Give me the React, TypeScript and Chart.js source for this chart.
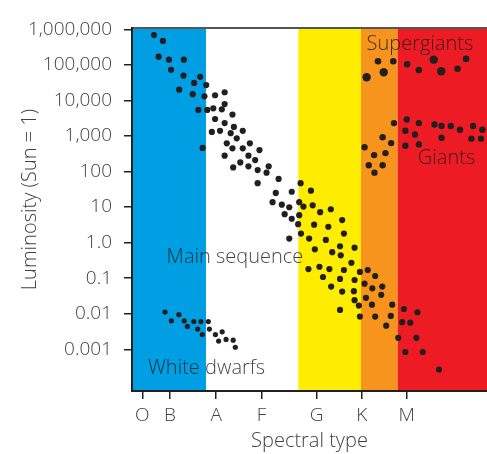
import React, { useEffect, useRef } from 'react';
import { Chart, registerables } from 'chart.js';

Chart.register(...registerables);

// Spectral axis: continuous index 0..100 across the plot
const spectralTickPos = [2.9, 10.7, 23.7, 36.5, 52.0, 64.7, 77.4];
const spectralTickLabels = ['O', 'B', 'A', 'F', 'G', 'K', 'M'];

const lumTickValues = [0.001, 0.01, 0.1, 1, 10, 100, 1000, 10000, 100000, 1000000];
const lumTickLabels = ['0.001', '0.01', '0.1', '1.0', '10', '100', '1,000', '10,000', '100,000', '1,000,000'];

const bandEdges = [0, 20.85, 46.85, 64.5, 74.85, 100];
const bandColors = ['#009fe3', '#ffffff', '#ffed00', '#f7941d', '#ed1c24'];

const mainSeqX = [
  6.2, 8.7, 7.5, 10.4, 14.6, 11.0, 14.5, 19.2, 17.5, 20.9, 13.3, 17.1, 20.4, 23.4, 26.1, 26.1,
  22.9, 25.3, 18.7, 21.2, 28.3, 23.4, 26.1, 28.7, 31.2, 22.5, 24.8, 27.8, 29.5, 19.9, 26.7, 28.3,
  31.2, 33.2, 35.9, 26.1, 32.8, 34.7, 30.5, 28.5, 32.8, 38.5, 35.4, 37.9, 41.3, 35.4, 40.5, 45.0,
  39.6, 42.2, 44.3, 47.1, 48.3, 43.0, 45.0, 47.1, 46.8, 47.5, 50.4, 47.6, 44.3, 49.9, 49.7, 50.9,
  53.0, 56.0, 51.3, 55.3, 59.2, 54.6, 59.7, 51.5, 56.4, 58.6, 58.8, 62.7, 61.8, 52.8, 55.6, 59.7,
  64.2, 66.4, 68.5, 53.8, 58.6, 62.7, 65.5, 67.7, 70.5, 56.1, 59.2, 62.5, 70.2, 65.9, 62.7, 63.9,
  67.6, 73.3, 76.6, 80.4, 58.6, 64.2, 68.5, 72.9, 71.6, 76.1, 78.4, 75.0, 80.1, 77.0, 81.9, 86.5,
];
const mainSeqL = [
  6.9e5, 4.7e5, 1.7e5, 1.4e5, 1.4e5, 7.3e4, 5.0e4, 4.6e4, 3.1e4, 2.7e4, 2.0e4, 1.5e4, 1.3e4, 1.4e4, 1.7e4, 7.9e3,
  6.0e3, 5.6e3, 5.4e3, 5.4e3, 4.0e3, 3.0e3, 2.3e3, 1.8e3, 1.4e3, 1.3e3, 1.4e3, 1.2e3, 860, 460, 620, 450,
  450, 620, 400, 280, 280, 210, 180, 130, 140, 140, 110, 93, 62, 47, 25, 27,
  13.7, 11.7, 9.9, 13.7, 10.3, 6.3, 4.7, 5.9, 3.3, 47, 29, 1.8, 1.3, 1.3, 0.18, 11.2,
  7.2, 8.7, 3.2, 2.8, 4.3, 1.19, 1.8, 0.65, 0.54, 0.79, 0.44, 0.72, 0.27, 0.21, 0.18, 0.17,
  0.15, 0.17, 0.115, 0.108, 0.095, 0.089, 0.07, 0.052, 0.058, 0.058, 0.042, 0.043, 0.034, 0.028, 0.024, 0.017,
  0.018, 0.018, 0.0136, 0.011, 0.0128, 0.0083, 0.0083, 0.0087, 0.0046, 0.0058, 0.0056, 0.0021, 0.0021, 0.00084, 0.00084, 0.00027,
];

const whiteDwarfX = [9.3, 11.1, 13.2, 14.7, 15.6, 17.4, 19.4, 21.5, 18.5, 19.8, 21.8, 23.5, 25.4, 24.4, 26.5, 28.5, 29.1];
const whiteDwarfL = [0.0112, 0.0063, 0.0094, 0.0063, 0.0044, 0.006, 0.006, 0.006, 0.0037, 0.0026, 0.0037, 0.0026, 0.0031, 0.0017, 0.0019, 0.0018, 0.00114];

const giantX = [73.8, 77.4, 80.8, 77.0, 79.7, 85.2, 87.2, 89.8, 92.4, 96.1, 98.7, 87.2, 95.6, 98.3, 70.6, 73.0, 77.0, 80.8, 65.5, 68.2, 71.4, 66.7, 70.6, 68.3];
const giantL = [2300, 2900, 2300, 1400, 1100, 2100, 1900, 1900, 1500, 1900, 1500, 890, 840, 840, 920, 630, 530, 580, 480, 290, 330, 150, 150, 93];

const superGiantX = [69.3, 73.6, 66.1, 70.9, 77.5, 80.8, 85.0, 87.1, 91.7, 94.1];
const superGiantL = [1.26e5, 1.26e5, 4.5e4, 6.2e4, 1.04e5, 7.2e4, 1.4e5, 6.6e4, 7.8e4, 1.47e5];
const superGiantBig = [false, false, true, true, false, false, true, true, false, false];

const regionLabels = ['Supergiants', 'Giants', 'Main sequence', 'White dwarfs'];
const regionLabelX = [81.1, 88.6, 29.0, 21.0];
const regionLabelL = [2.7e5, 163, 0.263, 2.0e-4];

const FONT = '"Open Sans", "Noto Sans", sans-serif';
const DOT = '#231f20';
const TEXT = '#3f3f3f';

const toPoints = (xs: number[], ls: number[]) => xs.map((x, i) => ({ x, y: ls[i] }));

const bandsPlugin = {
  id: 'bands',
  beforeDraw(chart: any) {
    const { ctx, chartArea, scales } = chart;
    const xs = scales.x;
    ctx.save();
    for (let i = 0; i < bandColors.length; i++) {
      const x0 = xs.getPixelForValue(bandEdges[i]);
      const x1 = xs.getPixelForValue(bandEdges[i + 1]);
      ctx.fillStyle = bandColors[i];
      ctx.fillRect(x0, chartArea.top, x1 - x0, chartArea.bottom - chartArea.top);
    }
    ctx.strokeStyle = '#555555';
    ctx.lineWidth = 2;
    ctx.beginPath();
    ctx.moveTo(chartArea.left - 1, chartArea.top);
    ctx.lineTo(chartArea.right, chartArea.top);
    ctx.stroke();
    ctx.restore();
  },
  afterDatasetsDraw(chart: any) {
    const { ctx, scales, chartArea } = chart;
    ctx.save();
    ctx.font = `300 20px ${FONT}`;
    ctx.fillStyle = 'rgba(25,25,25,0.82)';
    ctx.textAlign = 'center';
    ctx.textBaseline = 'alphabetic';
    regionLabels.forEach((t, i) => {
      ctx.fillText(t, scales.x.getPixelForValue(regionLabelX[i]), scales.y.getPixelForValue(regionLabelL[i]));
    });
    // y-axis title
    ctx.fillStyle = TEXT;
    ctx.textBaseline = 'middle';
    ctx.translate(30, (chartArea.top + chartArea.bottom) / 2 - 10);
    ctx.rotate(-Math.PI / 2);
    ctx.fillText('Luminosity (Sun = 1)', 0, 0);
    ctx.restore();
  },
};

export default function App() {
  const ref = useRef<HTMLCanvasElement | null>(null);
  useEffect(() => {
    if (!ref.current) return;
    const chart = new Chart(ref.current, {
      type: 'scatter',
      data: {
        datasets: [
          { label: 'Main sequence', data: toPoints(mainSeqX, mainSeqL), pointRadius: 3.1, backgroundColor: DOT, borderWidth: 0 },
          { label: 'White dwarfs', data: toPoints(whiteDwarfX, whiteDwarfL), pointRadius: 2.6, backgroundColor: DOT, borderWidth: 0 },
          { label: 'Giants', data: toPoints(giantX, giantL), pointRadius: 3.2, backgroundColor: DOT, borderWidth: 0 },
          {
            label: 'Supergiants',
            data: toPoints(superGiantX, superGiantL),
            pointRadius: superGiantBig.map((b) => (b ? 4.2 : 3.3)),
            backgroundColor: DOT,
            borderWidth: 0,
          },
        ],
      },
      options: {
        responsive: false,
        animation: false,
        devicePixelRatio: 1,
        layout: { autoPadding: false, padding: { top: 28, right: 0, left: 0, bottom: 0 } },
        plugins: { legend: { display: false }, tooltip: { enabled: false } },
        scales: {
          x: {
            type: 'linear',
            min: 0,
            max: 100,
            afterFit: (s: any) => { s.height = 63; s.paddingLeft = 0; s.paddingRight = 0; },
            afterBuildTicks: (s: any) => { s.ticks = spectralTickPos.map((v) => ({ value: v })); },
            ticks: {
              autoSkip: false,
              maxRotation: 0,
              padding: 5,
              color: TEXT,
              font: { family: FONT, size: 19, weight: '300' },
              callback: (_v: any, i: number) => spectralTickLabels[i],
            },
            grid: { drawOnChartArea: false, drawTicks: true, tickLength: 8, color: '#231f20', lineWidth: 1.5 },
            border: { color: '#231f20', width: 2 },
            title: {
              display: true,
              text: 'Spectral type',
              color: TEXT,
              font: { family: FONT, size: 20, weight: '300' },
              padding: { top: 0, bottom: 1 },
            },
          },
          y: {
            type: 'logarithmic',
            min: 6.71e-5,
            max: 1.089e6,
            afterFit: (s: any) => { s.width = 132; s.paddingTop = 0; s.paddingBottom = 0; },
            afterBuildTicks: (s: any) => { s.ticks = lumTickValues.map((v) => ({ value: v })); },
            ticks: {
              autoSkip: false,
              padding: 12,
              color: TEXT,
              font: { family: FONT, size: 19, weight: '300' },
              callback: (_v: any, i: number) => lumTickLabels[i],
            },
            grid: { drawOnChartArea: false, drawTicks: true, tickLength: 8, color: '#231f20', lineWidth: 1.5 },
            border: { color: '#231f20', width: 2 },
          },
        },
      },
      plugins: [bandsPlugin],
    });
    return () => chart.destroy();
  }, []);
  return (
    <div style={{ position: 'absolute', left: 0, top: 0, width: 487, height: 454 }}>
      <canvas ref={ref} width={487} height={454} />
    </div>
  );
}
